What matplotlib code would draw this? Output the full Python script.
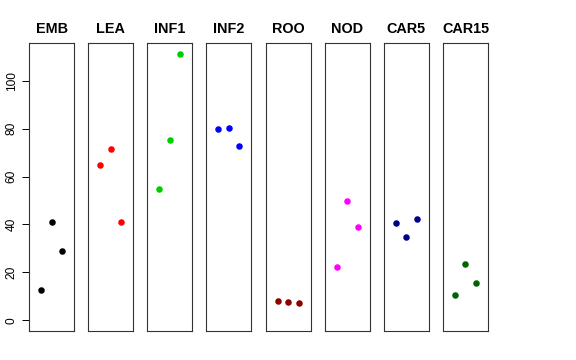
import numpy as np
import matplotlib.pyplot as plt

plt.rcParams['font.family'] = ['Liberation Sans', 'DejaVu Sans']

# Data (three replicates per tissue)
tissues = ["EMB", "LEA", "INF1", "INF2", "ROO", "NOD", "CAR5", "CAR15"]
emb = [12.6, 41.0, 28.9]
lea = [64.7, 71.5, 41.0]
inf1 = [54.8, 75.2, 111.2]
inf2 = [79.7, 80.1, 72.8]
roo = [8.2, 7.5, 7.1]
nod = [22.1, 49.8, 39.1]
car5 = [40.5, 34.8, 42.1]
car15 = [10.7, 23.4, 15.6]
replicate = [1, 2, 3]
colors = ["black", "red", "#00CD00", "blue", "#8B0000", "magenta", "#00008B", "#006400"]
yticks = [0, 20, 40, 60, 80, 100]

values = [emb, lea, inf1, inf2, roo, nod, car5, car15]

fig, axes = plt.subplots(1, 8, figsize=(5.76, 3.6), dpi=100, sharey=True)
fig.subplots_adjust(left=29 / 576, right=488 / 576, top=1 - 43 / 360,
                    bottom=1 - 331 / 360, wspace=14 / 45)

for ax, name, vals, col in zip(axes, tissues, values, colors):
    ax.scatter(replicate, vals, s=22, color=col, linewidths=0, zorder=3)
    ax.set_xlim(-0.16, 4.16)
    ax.set_ylim(-4.45, 115.7)
    ax.set_title(name, fontsize=10.4, fontweight="bold", pad=7)
    ax.set_xticks([])
    for sp in ax.spines.values():
        sp.set_linewidth(0.8)
        sp.set_color("#333333")
    ax.tick_params(axis="y", length=0, labelleft=False)

ax0 = axes[0]
ax0.set_yticks(yticks)
ax0.tick_params(axis="y", length=5.2, width=0.7, pad=3, labelleft=True,
                labelsize=8.6)
for lab in ax0.get_yticklabels():
    lab.set_rotation(90)
    lab.set_va("center")

fig.savefig("out.png", dpi=100)
